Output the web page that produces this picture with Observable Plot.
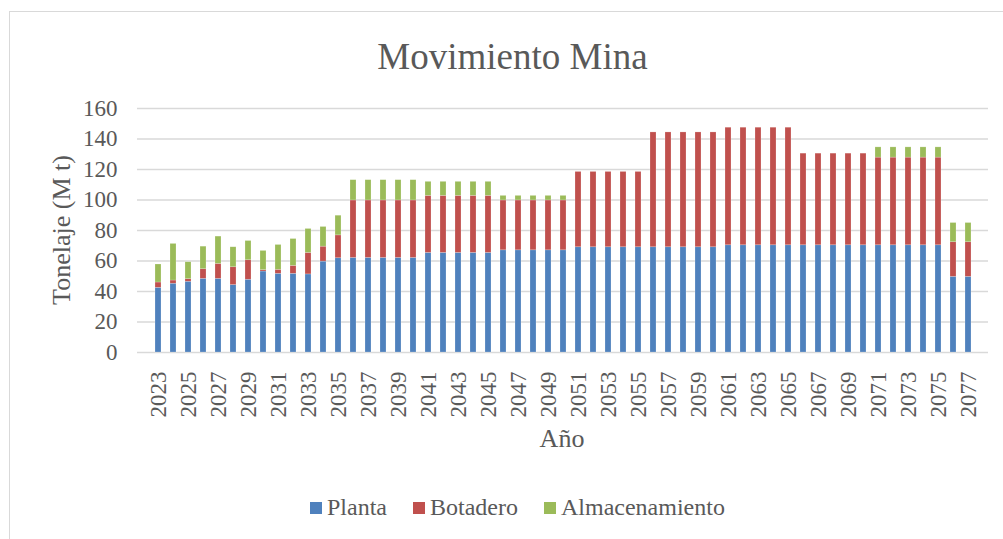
<!DOCTYPE html>
<html>
<head>
<meta charset="utf-8">
<script src="https://cdn.jsdelivr.net/npm/d3@7"></script>
<script src="https://cdn.jsdelivr.net/npm/@observablehq/plot@0.6"></script>
<style>
  html, body { margin: 0; padding: 0; background: #fff; font-family: 'Liberation Serif', serif; }
  #wrap { position: relative; width: 1003px; height: 539px; overflow: hidden; color: #595959; }
  #frame { position: absolute; left: 9px; top: 11px; width: 1010px; height: 560px;
           border-left: 1.5px solid #d9d9d9; border-top: 1.5px solid #d9d9d9; box-sizing: border-box; }
  #title { position: absolute; left: 0; top: 35px; width: 1025px; text-align: center; font-size: 37px; line-height: 44px; }
  #ylabel { position: absolute; left: 62px; top: 230px; font-size: 26px; white-space: nowrap;
            transform: translate(-50%, -50%) rotate(-90deg); }
  #xlabel { position: absolute; left: 562px; top: 424px; transform: translateX(-50%); font-size: 26px; white-space: nowrap; }
  #legend { position: absolute; left: 310px; top: 494px; font-size: 24px; white-space: nowrap; display: flex; align-items: center; }
  #legend .item { display: flex; align-items: center; }
  #legend .sw { width: 12px; height: 12px; margin-right: 5px; }
  svg { position: absolute; left: 0; top: 0; }
</style>
</head>
<body>
<div id="wrap" style="font-family:'Liberation Serif'">
  <div id="frame"></div>
</div>
<script>
const years = d3.range(2023, 2078);
const seriesNames = ["Planta", "Botadero", "Almacenamiento"];
const seriesColors = ["#4F81BD", "#C0504D", "#9BBB59"];

const planta = [
  42.4, 45.1, 46.4, 48.3, 48.3, 44.2, 47.7, 53.1, 51.6, 51.6, 51.2, 59.6, 61.8,
  62.0, 62.0, 62.0, 62.0, 62.0,
  65.3, 65.3, 65.3, 65.3, 65.3,
  67.0, 67.0, 67.0, 67.0, 67.0,
  69.0, 69.0, 69.0, 69.0, 69.0,
  69.0, 69.0, 69.0, 69.0, 69.0,
  70.3, 70.3, 70.3, 70.3, 70.3,
  70.3, 70.3, 70.3, 70.3, 70.3,
  70.3, 70.3, 70.3, 70.3, 70.3,
  49.6, 49.6
];
const botadero = [
  3.5, 2.1, 1.7, 6.3, 9.8, 11.7, 12.8, 0.9, 2.6, 5.2, 14.1, 9.8, 15.0,
  37.7, 37.7, 37.7, 37.7, 37.7,
  37.4, 37.4, 37.4, 37.4, 37.4,
  32.7, 32.7, 32.7, 32.7, 32.7,
  49.4, 49.4, 49.4, 49.4, 49.4,
  75.3, 75.3, 75.3, 75.3, 75.3,
  77.1, 77.1, 77.1, 77.1, 77.1,
  60.1, 60.1, 60.1, 60.1, 60.1,
  57.5, 57.5, 57.5, 57.5, 57.5,
  22.7, 22.7
];
const almacenamiento = [
  11.8, 24.0, 11.1, 14.8, 17.9, 13.1, 12.6, 12.6, 16.3, 17.6, 15.7, 12.9, 12.9,
  13.3, 13.3, 13.3, 13.3, 13.3,
  9.2, 9.2, 9.2, 9.2, 9.2,
  3.0, 3.0, 3.0, 3.0, 3.0,
  0, 0, 0, 0, 0,
  0, 0, 0, 0, 0,
  0, 0, 0, 0, 0,
  0, 0, 0, 0, 0,
  6.7, 6.7, 6.7, 6.7, 6.7,
  12.6, 12.6
];
const yTicks = [0, 20, 40, 60, 80, 100, 120, 140, 160];
const xTickYears = years.filter(y => y % 2 === 1);

const seriesValues = [planta, botadero, almacenamiento];
const data = years.flatMap((year, i) =>
  seriesNames.map((serie, s) => ({ year, serie, value: seriesValues[s][i] }))
);

const chart = Plot.plot({
  width: 1003,
  height: 539,
  marginTop: 108,
  marginBottom: 187,
  marginLeft: 137,
  marginRight: 15,
  style: { fontFamily: "Liberation Serif", color: "#595959", background: "transparent", overflow: "visible" },
  x: { type: "band", domain: years, padding: 0.6, align: 0.5 },
  y: { domain: [0, 160] },
  color: { domain: seriesNames, range: seriesColors },
  marks: [
    Plot.ruleY(yTicks, { stroke: "#d9d9d9", strokeWidth: 1.5 }),
    Plot.barY(data, {
      x: "year", y: "value", fill: "serie",
      order: seriesNames,
      stroke: "#ffffff", strokeOpacity: 0.35, strokeWidth: 0.6
    }),
    Plot.axisY({ ticks: yTicks, tickSize: 0, tickPadding: 20, fontSize: 23, label: null, fill: "#595959", fontFamily: "Liberation Serif" }),
    Plot.axisX({ ticks: xTickYears, tickFormat: d => String(d), tickSize: 0, tickPadding: 19, tickRotate: -90, fontSize: 23, label: null, fill: "#595959", fontFamily: "Liberation Serif" })
  ]
});

const wrap = document.getElementById("wrap");
wrap.appendChild(chart);

function addText(id, text) {
  const el = document.createElement("div");
  el.id = id;
  el.style.fontFamily = "'Liberation Serif'";
  el.textContent = text;
  wrap.appendChild(el);
  return el;
}
addText("title", "Movimiento Mina");
addText("ylabel", "Tonelaje (M t)");
addText("xlabel", "Año");

const legend = document.createElement("div");
legend.id = "legend";
legend.style.fontFamily = "'Liberation Serif'";
seriesNames.forEach((name, i) => {
  const item = document.createElement("div");
  item.className = "item";
  item.style.marginRight = i < seriesNames.length - 1 ? "26px" : "0";
  const sw = document.createElement("div");
  sw.className = "sw";
  sw.style.background = seriesColors[i];
  const label = document.createElement("span");
  label.textContent = name;
  item.appendChild(sw);
  item.appendChild(label);
  legend.appendChild(item);
});
wrap.appendChild(legend);
</script>
</body>
</html>
